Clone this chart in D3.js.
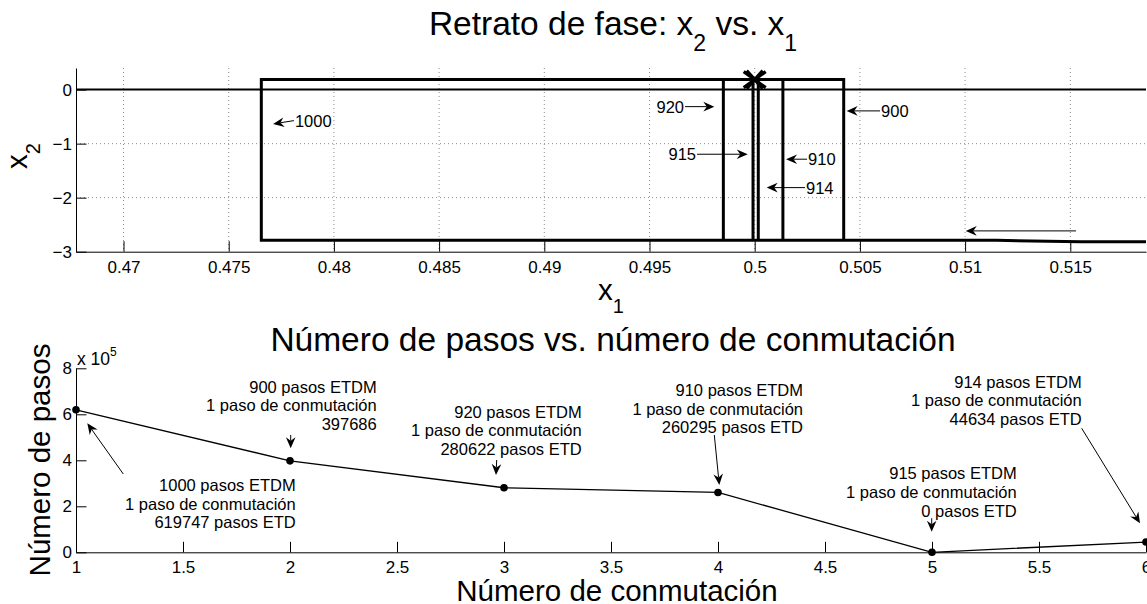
<!DOCTYPE html>
<html>
<head>
<meta charset="utf-8">
<script src="https://cdn.jsdelivr.net/npm/d3@7"></script>
<style>
  body { margin: 0; background: #fff; }
  svg { display: block; }
  text { font-family: "Liberation Sans", Arial, Helvetica, sans-serif; fill: #000; }
</style>
</head>
<body>
<svg id="fig" width="1147" height="604"></svg>
<script>
// ---------- Phase portrait: trajectory in the (x1, x2) plane ----------
const trajX1 = [0.53, 0.5155, 0.5115, 0.47655, 0.47655, 0.50423, 0.50423, 0.49851, 0.49851,
                0.50134, 0.50134, 0.49992, 0.49992, 0.50017, 0.50017];
const trajX2 = [-2.82, -2.815, -2.79, -2.79, 0.185, 0.185, -2.79, -2.79, 0.185,
                0.185, -2.79, -2.79, 0.185, 0.185, -2.79];
// final (equilibrium) point
const eqX1 = [0.5];
const eqX2 = [0.185];
// switching surface x2 = 0
const switchX2 = 0;

const phaseXDomain = [0.467742, 0.518598];
const phaseYDomain = [-3, 0.4];
const phaseXTicks = [0.47, 0.475, 0.48, 0.485, 0.49, 0.495, 0.5, 0.505, 0.51, 0.515];
const phaseXTickLabels = ["0.47", "0.475", "0.48", "0.485", "0.49", "0.495", "0.5", "0.505", "0.51", "0.515"];
const phaseYTicks = [0, -1, -2, -3];
const phaseYTickLabels = ["0", "\u22121", "\u22122", "\u22123"];

// labelled arrows (ETDM steps of each pass)
const phaseNotes = [
  { label: "1000", tail: [0.47810, -0.574], head: [0.47711, -0.635] },
  { label: "920",  tail: [0.49669, -0.315], head: [0.49808, -0.315] },
  { label: "915",  tail: [0.49726, -1.196], head: [0.49967, -1.196] },
  { label: "910",  tail: [0.50249, -1.288], head: [0.50149, -1.288] },
  { label: "914",  tail: [0.50239, -1.814], head: [0.50057, -1.814] },
  { label: "900",  tail: [0.50596, -0.394], head: [0.50437, -0.394] },
  { label: "",     tail: [0.51527, -2.615], head: [0.51003, -2.615] }
];

// ---------- Steps vs. switching number ----------
const switchNum = [1, 2, 3, 4, 5, 6];
const stepCount = [619747, 397686, 280622, 260295, 0, 44634];

const stepsXTicks = [1, 1.5, 2, 2.5, 3, 3.5, 4, 4.5, 5, 5.5, 6];
const stepsXTickLabels = ["1", "1.5", "2", "2.5", "3", "3.5", "4", "4.5", "5", "5.5", "6"];
const stepsYTicks = [0, 200000, 400000, 600000, 800000];
const stepsYTickLabels = ["0", "2", "4", "6", "8"];

const stepNotes = [
  { lines: ["1000 pasos ETDM", "1 paso de conmutación", "619747 pasos ETD"],
    text: [2.0266, 292609], tail: [1.221, 340435], head: [1.0528, 560870] },
  { lines: ["900 pasos ETDM", "1 paso de conmutación", "397686"],
    text: [2.4051, 720000], tail: [2.0033, 510000], head: [2.0033, 452174] },
  { lines: ["920 pasos ETDM", "1 paso de conmutación", "280622 pasos ETD"],
    text: [3.3631, 611304], tail: [2.9659, 401304], head: [2.9626, 336087] },
  { lines: ["910 pasos ETDM", "1 paso de conmutación", "260295 pasos ETD"],
    text: [4.3972, 705652], tail: [3.9827, 510000], head: [4.0061, 292609] },
  { lines: ["915 pasos ETDM", "1 paso de conmutación", "0 pasos ETD"],
    text: [5.3958, 343478], tail: [4.9986, 147826], head: [4.9986, 89565] },
  { lines: ["914 pasos ETDM", "1 paso de conmutación", "44634 pasos ETD"],
    text: [5.6995, 741739], tail: [5.6995, 539130], head: [5.972, 126087] }
];

// ---------- drawing ----------
const svg = d3.select("#fig");
const tickFont = 17, noteFont = 16.5, labelFont = 29.5, titleFont = 33.5;

// arrow with a notched head, coordinates in pixels
function arrow(g, tx, ty, hx, hy) {
  const dx = hx - tx, dy = hy - ty, len = Math.hypot(dx, dy);
  const ux = dx / len, uy = dy / len, px = -uy, py = ux;
  const L = 11, W = 4.8, N = 7.5;
  g.append("line")
    .attr("x1", tx).attr("y1", ty)
    .attr("x2", hx - ux * N).attr("y2", hy - uy * N)
    .attr("stroke", "#000").attr("stroke-width", 1);
  const pts = [
    [hx, hy],
    [hx - ux * L + px * W, hy - uy * L + py * W],
    [hx - ux * N, hy - uy * N],
    [hx - ux * L - px * W, hy - uy * L - py * W]
  ];
  g.append("path").attr("d", "M" + pts.map(p => p.join(",")).join("L") + "Z")
    .attr("fill", "#000");
}

// text with subscripts, e.g. x_1; the part after a subscript returns to the baseline
function subLabel(sel, parts, subSize, subShift) {
  let lowered = false;
  parts.forEach(p => {
    const ts = sel.append("tspan").text(p.t);
    if (p.sub) {
      ts.attr("font-size", subSize).attr("dy", subShift);
      lowered = true;
    } else if (lowered) {
      ts.attr("dy", -subShift);
      lowered = false;
    }
  });
}

// ===== Top panel =====
const boxA = { left: 76, right: 1146, top: 68, bottom: 251.7 };
const xP = d3.scaleLinear().domain(phaseXDomain).range([boxA.left, boxA.right]);
const yP = d3.scaleLinear().domain(phaseYDomain).range([boxA.bottom, boxA.top]);

svg.append("defs").append("clipPath").attr("id", "clipTop")
  .append("rect").attr("x", boxA.left).attr("y", boxA.top - 20)
  .attr("width", boxA.right - boxA.left).attr("height", boxA.bottom - boxA.top + 20);

const gTop = svg.append("g");

// grid
gTop.append("g").selectAll("line").data(phaseXTicks).join("line")
  .attr("x1", d => xP(d)).attr("x2", d => xP(d))
  .attr("y1", boxA.top).attr("y2", boxA.bottom)
  .attr("stroke", "#8c8c8c").attr("stroke-width", 1).attr("stroke-dasharray", "1,3");
gTop.append("g").selectAll("line").data(phaseYTicks.filter(v => v > phaseYDomain[0])).join("line")
  .attr("x1", boxA.left).attr("x2", boxA.right)
  .attr("y1", d => yP(d)).attr("y2", d => yP(d))
  .attr("stroke", "#8c8c8c").attr("stroke-width", 1).attr("stroke-dasharray", "1,3");

// axes
const xAxisTop = d3.axisBottom(xP).tickValues(phaseXTicks)
  .tickFormat((d, i) => phaseXTickLabels[i]).tickSizeInner(-10.5).tickSizeOuter(0);
const gxTop = gTop.append("g").attr("transform", `translate(0,${boxA.bottom})`).call(xAxisTop);
const yAxisTop = d3.axisLeft(yP).tickValues(phaseYTicks)
  .tickFormat((d, i) => phaseYTickLabels[i]).tickSizeInner(-10.5).tickSizeOuter(0);
const gyTop = gTop.append("g").attr("transform", `translate(${boxA.left},0)`).call(yAxisTop);
[gxTop, gyTop].forEach(g => {
  g.select(".domain").attr("stroke", "#000").attr("stroke-width", 1);
  g.selectAll(".tick line").attr("stroke", "#000");
  g.selectAll(".tick text").attr("font-size", tickFont)
    .attr("font-family", '"Liberation Sans", Arial, sans-serif').attr("fill", "#000");
});
gxTop.selectAll(".tick text").attr("dy", "0.71em").attr("y", 9.5);
gyTop.selectAll(".tick text").attr("x", -4);

// data
const gData = gTop.append("g").attr("clip-path", "url(#clipTop)");
gData.append("line")
  .attr("x1", boxA.left).attr("x2", boxA.right)
  .attr("y1", yP(switchX2)).attr("y2", yP(switchX2))
  .attr("stroke", "#000").attr("stroke-width", 2);
const traj = trajX1.map((v, i) => [v, trajX2[i]]);
gData.append("path").datum(traj)
  .attr("d", d3.line().x(d => xP(d[0])).y(d => yP(d[1])))
  .attr("fill", "none").attr("stroke", "#000").attr("stroke-width", 3)
  .attr("stroke-linejoin", "miter");
// equilibrium marker (bold x)
eqX1.forEach((v, i) => {
  const cx = xP(v), cy = yP(eqX2[i]);
  const m = gTop.append("g").attr("transform", `translate(${cx},${cy})`);
  [[-11, -8, 11, 8], [-11, 8, 11, -8], [-8, -9, 8, 9], [-8, 9, 8, -9]].forEach(s =>
    m.append("line").attr("x1", s[0]).attr("y1", s[1]).attr("x2", s[2]).attr("y2", s[3])
      .attr("stroke", "#000").attr("stroke-width", 3.2));
});

// annotations
const gNotesTop = gTop.append("g");
phaseNotes.forEach(n => {
  const tx = xP(n.tail[0]), ty = yP(n.tail[1]);
  const hx = xP(n.head[0]), hy = yP(n.head[1]);
  arrow(gNotesTop, tx, ty, hx, hy);
  if (n.label) {
    const leftward = hx < tx;
    gNotesTop.append("text")
      .attr("x", leftward ? tx + 1 : tx - 1)
      .attr("y", ty + noteFont * 0.36)
      .attr("text-anchor", leftward ? "start" : "end")
      .attr("font-size", noteFont).text(n.label);
  }
});

// titles and labels
const tTop = svg.append("text").attr("x", (boxA.left + boxA.right) / 2 + 2).attr("y", 34.5)
  .attr("text-anchor", "middle").attr("font-size", titleFont);
subLabel(tTop, [{ t: "Retrato de fase: x" }, { t: "2", sub: true }, { t: " vs. x" }, { t: "1", sub: true }], 23, 16);
const xlTop = svg.append("text").attr("x", (boxA.left + boxA.right) / 2).attr("y", 300)
  .attr("text-anchor", "middle").attr("font-size", labelFont);
subLabel(xlTop, [{ t: "x" }, { t: "1", sub: true }], 20, 13);
const ylTop = svg.append("text").attr("transform", `translate(27,156) rotate(-90)`)
  .attr("text-anchor", "middle").attr("font-size", labelFont);
subLabel(ylTop, [{ t: "x" }, { t: "2", sub: true }], 20, 13);

// ===== Bottom panel =====
const boxB = { left: 76, right: 1146, top: 368.3, bottom: 552.3 };
const xS = d3.scaleLinear().domain([1, 6]).range([boxB.left, boxB.right]);
const yS = d3.scaleLinear().domain([0, 800000]).range([boxB.bottom, boxB.top]);
const gBot = svg.append("g");

const xAxisBot = d3.axisBottom(xS).tickValues(stepsXTicks)
  .tickFormat((d, i) => stepsXTickLabels[i]).tickSizeInner(-10.5).tickSizeOuter(0);
const gxBot = gBot.append("g").attr("transform", `translate(0,${boxB.bottom})`).call(xAxisBot);
const yAxisBot = d3.axisLeft(yS).tickValues(stepsYTicks)
  .tickFormat((d, i) => stepsYTickLabels[i]).tickSizeInner(-10.5).tickSizeOuter(0);
const gyBot = gBot.append("g").attr("transform", `translate(${boxB.left},0)`).call(yAxisBot);
[gxBot, gyBot].forEach(g => {
  g.select(".domain").attr("stroke", "#000").attr("stroke-width", 1);
  g.selectAll(".tick line").attr("stroke", "#000");
  g.selectAll(".tick text").attr("font-size", tickFont)
    .attr("font-family", '"Liberation Sans", Arial, sans-serif').attr("fill", "#000");
});
gxBot.selectAll(".tick text").attr("dy", "0.71em").attr("y", 9);
gyBot.selectAll(".tick text").attr("x", -4);

// exponent label
const expo = gBot.append("text").attr("x", boxB.left + 1).attr("y", 365).attr("font-size", 17.5);
expo.append("tspan").text("x 10");
expo.append("tspan").attr("font-size", 12).attr("dy", -9).text("5");

// series
const pts = switchNum.map((v, i) => [v, stepCount[i]]);
gBot.append("path").datum(pts)
  .attr("d", d3.line().x(d => xS(d[0])).y(d => yS(d[1])))
  .attr("fill", "none").attr("stroke", "#000").attr("stroke-width", 1.3);
gBot.append("g").selectAll("circle").data(pts).join("circle")
  .attr("cx", d => xS(d[0])).attr("cy", d => yS(d[1])).attr("r", 3.8).attr("fill", "#000");

// annotations
const gNotesBot = gBot.append("g");
stepNotes.forEach(n => {
  arrow(gNotesBot, xS(n.tail[0]), yS(n.tail[1]), xS(n.head[0]), yS(n.head[1]));
  const t = gNotesBot.append("text").attr("text-anchor", "end").attr("font-size", noteFont);
  const x0 = xS(n.text[0]), y0 = yS(n.text[1]) + noteFont * 0.36;
  n.lines.forEach((s, i) => t.append("tspan").attr("x", x0).attr("y", y0 + i * 18.7).text(s));
});

// titles and labels
svg.append("text").attr("x", (boxB.left + boxB.right) / 2 + 2).attr("y", 350.7)
  .attr("text-anchor", "middle").attr("font-size", titleFont)
  .text("Número de pasos vs. número de conmutación");
svg.append("text").attr("x", (boxB.left + boxB.right) / 2 + 6).attr("y", 601)
  .attr("text-anchor", "middle").attr("font-size", labelFont).text("Número de conmutación");
svg.append("text").attr("transform", `translate(50,460) rotate(-90)`)
  .attr("text-anchor", "middle").attr("font-size", labelFont).text("Número de pasos");
</script>
</body>
</html>
